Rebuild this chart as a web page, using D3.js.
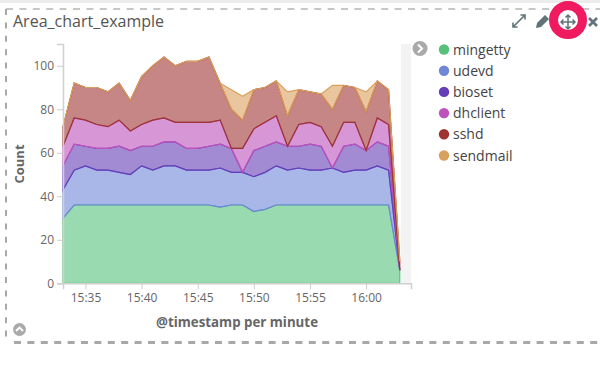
<!DOCTYPE html>
<html>
<head>
<meta charset="utf-8">
<script src="https://cdnjs.cloudflare.com/ajax/libs/d3/7.8.5/d3.min.js"></script>
<style>
  html, body { margin: 0; padding: 0; background: #fff; }
  svg { display: block; }
  text { font-family: "Open Sans", sans-serif; }
</style>
</head>
<body>
<div id="chart-container"></div>
<script>
// Chart data
const minutes = ['15:33','15:34','15:35','15:36','15:37','15:38','15:39','15:40','15:41','15:42','15:43',
  '15:44','15:45','15:46','15:47','15:48','15:49','15:50','15:51','15:52','15:53','15:54','15:55','15:56',
  '15:57','15:58','15:59','16:00','16:01','16:02','16:03'];
const mingetty = [30,36,36,36,36,36,36,36,36,36,36,36,36,36,35,36,36,33,34,36,36,36,36,36,36,36,36,36,36,36,6];
const udevd    = [13,16,18,16,16,15,14,18,16,18,18,16,16,16,18,15,15,16,17,18,16,17,16,16,17,15,16,16,18,16,0];
const bioset   = [11,12, 9,10,10,12,11, 9,11,11,11,10,10,11,11,11, 0,12,12,11,11,10,12,11, 0,12,12, 9,11,11,0];
const dhclient = [ 9,12,12,11,10,12, 9,10,12,11, 9,12,12,11,11, 0,11,10,11,12, 0,10,10, 9,10,11,10, 0,11,10,0];
const sshd     = [ 9,16,15,17,16,17,14,22,25,28,26,28,28,30,17,18,13,18,16,16,14,16,14,15,17,17,16,18,17,16,4];
const sendmail = [ 0, 0, 0, 0, 0, 0, 0, 0, 0, 0, 0, 0, 0, 0, 0, 9,11, 0, 0, 0,11, 0, 0, 0,11, 0, 0, 9, 0, 0,1];
const seriesNames = ['mingetty','udevd','bioset','dhclient','sshd','sendmail'];
const seriesValues = [mingetty, udevd, bioset, dhclient, sshd, sendmail];
const seriesColors = ['#57c17b','#6f87d8','#663db8','#bc52bc','#9e3533','#daa05d'];
const yTicks = [0,20,40,60,80,100];

const svgWidth = 600;
const svgHeight = 368;
const plot = { left: 63, right: 411, top: 44, bottom: 283.3 };

const svg = d3.select('#chart-container')
  .append('svg')
  .attr('width', svgWidth)
  .attr('height', svgHeight);

const parseMinute = d3.timeParse('%H:%M');
const times = minutes.map(parseMinute);

// Table for d3.stack, one row per minute
const rows = times.map((t, i) => {
  const row = { time: t };
  seriesNames.forEach((name, s) => { row[name] = seriesValues[s][i]; });
  return row;
});
const stacked = d3.stack().keys(seriesNames)(rows);

const xScale = d3.scaleTime()
  .domain([parseMinute('15:33'), parseMinute('16:04')])
  .range([plot.left, plot.right]);
const yScale = d3.scaleLinear()
  .domain([0, 110])
  .range([plot.bottom, plot.top]);

// Panel frame
svg.append('rect').attr('width', svgWidth).attr('height', 3).attr('fill', '#ececec');
svg.append('line').attr('x1', 6).attr('x2', 600).attr('y1', 9).attr('y2', 9)
  .attr('stroke', '#b5b5b5').attr('stroke-width', 1.6).attr('stroke-dasharray', '7,6.4');
svg.append('line').attr('x1', 6).attr('x2', 6).attr('y1', 9).attr('y2', 344)
  .attr('stroke', '#a8a8a8').attr('stroke-width', 2).attr('stroke-dasharray', '6,7.4');
svg.append('line').attr('x1', 14).attr('x2', 600).attr('y1', 342.5).attr('y2', 342.5)
  .attr('stroke', '#a8a8a8').attr('stroke-width', 3).attr('stroke-dasharray', '7,6.4');

svg.append('text').attr('x', 13).attr('y', 27)
  .attr('font-size', 16).attr('fill', '#555').text('Area_chart_example');

// Rail of the legend toggle
svg.append('rect').attr('x', 401).attr('y', plot.top)
  .attr('width', plot.right - 401).attr('height', plot.bottom - plot.top)
  .attr('fill', '#f3f3f3');

// Areas, each one outlined in its own colour
const area = d3.area()
  .x(d => xScale(d.data.time))
  .y0(d => yScale(d[0]))
  .y1(d => yScale(d[1]));

svg.selectAll('.area')
  .data(stacked)
  .enter()
  .append('path')
  .attr('class', 'area')
  .attr('d', area)
  .attr('fill', (d, i) => seriesColors[i])
  .attr('fill-opacity', 0.6)
  .attr('stroke', (d, i) => seriesColors[i])
  .attr('stroke-width', 1.2);

// Axes
const yAxis = svg.append('g')
  .attr('transform', 'translate(' + plot.left + ',0)')
  .call(d3.axisLeft(yScale).tickValues(yTicks));
const xAxis = svg.append('g')
  .attr('transform', 'translate(0,' + plot.bottom + ')')
  .call(d3.axisBottom(xScale).ticks(d3.timeMinute.every(5)).tickFormat(d3.timeFormat('%H:%M')));

[yAxis, xAxis].forEach(axis => {
  axis.select('.domain').attr('stroke', '#d0d0d0').attr('stroke-width', 1.5);
  axis.selectAll('.tick line').attr('stroke', '#ccc');
  axis.selectAll('text').attr('fill', '#666').attr('font-size', 12)
    .style('font-family', '"Open Sans", sans-serif');
});
xAxis.selectAll('text').attr('dy', '0.85em');

svg.append('text')
  .attr('transform', 'translate(24,' + 164 + ') rotate(-90)')
  .attr('text-anchor', 'middle')
  .attr('font-size', 13).attr('font-weight', 700).attr('fill', '#666')
  .text('Count');
svg.append('text').attr('x', 237).attr('y', 327)
  .attr('text-anchor', 'middle')
  .attr('font-size', 13.3).attr('font-weight', 700).attr('fill', '#666')
  .text('@timestamp per minute');

// Legend
const legendRow = svg.selectAll('.legend-row')
  .data(seriesNames)
  .enter()
  .append('g')
  .attr('class', 'legend-row')
  .attr('transform', (d, i) => 'translate(444,' + (49.5 + i * 21.2) + ')');
legendRow.append('circle')
  .attr('r', 5.2)
  .attr('fill', (d, i) => seriesColors[i]);
legendRow.append('text')
  .attr('x', 9)
  .attr('y', 5)
  .attr('font-size', 14)
  .attr('fill', '#444')
  .text(d => d);

// Toggle buttons
svg.append('circle').attr('cx', 420).attr('cy', 48.5).attr('r', 7.5).attr('fill', '#aaa');
svg.append('path').attr('d', 'M418,44.5l4,4l-4,4').attr('fill', 'none')
  .attr('stroke', '#fff').attr('stroke-width', 2);
svg.append('circle').attr('cx', 19.5).attr('cy', 329.5).attr('r', 6.5).attr('fill', '#aaa');
svg.append('path').attr('d', 'M16,331l3.5,-3.5l3.5,3.5').attr('fill', 'none')
  .attr('stroke', '#fff').attr('stroke-width', 1.8);

// Panel icons
const iconColor = '#5f7378';
svg.append('path')
  .attr('d', 'M513,27l12,-12M513,22.5v4.5h4.5M520.5,15h4.5v4.5')
  .attr('fill', 'none').attr('stroke', iconColor).attr('stroke-width', 1.6);
svg.append('path')
  .attr('d', 'M536,28l1,-5l8,-8l4,4l-8,8z')
  .attr('fill', iconColor);
svg.append('circle').attr('cx', 568).attr('cy', 20).attr('r', 14.5)
  .attr('fill', 'none').attr('stroke', '#ef1a5f').attr('stroke-width', 9);
svg.append('path')
  .attr('d', 'M561,22h14M568,15v14M563.5,19.5l-2.5,2.5l2.5,2.5M572.5,19.5l2.5,2.5l-2.5,2.5M565.5,17.5l2.5,-2.5l2.5,2.5M565.5,26.5l2.5,2.5l2.5,-2.5')
  .attr('fill', 'none').attr('stroke', iconColor).attr('stroke-width', 1.5);
svg.append('path')
  .attr('d', 'M589,18l8,8M597,18l-8,8')
  .attr('fill', 'none').attr('stroke', iconColor).attr('stroke-width', 2.6);
</script>
</body>
</html>
